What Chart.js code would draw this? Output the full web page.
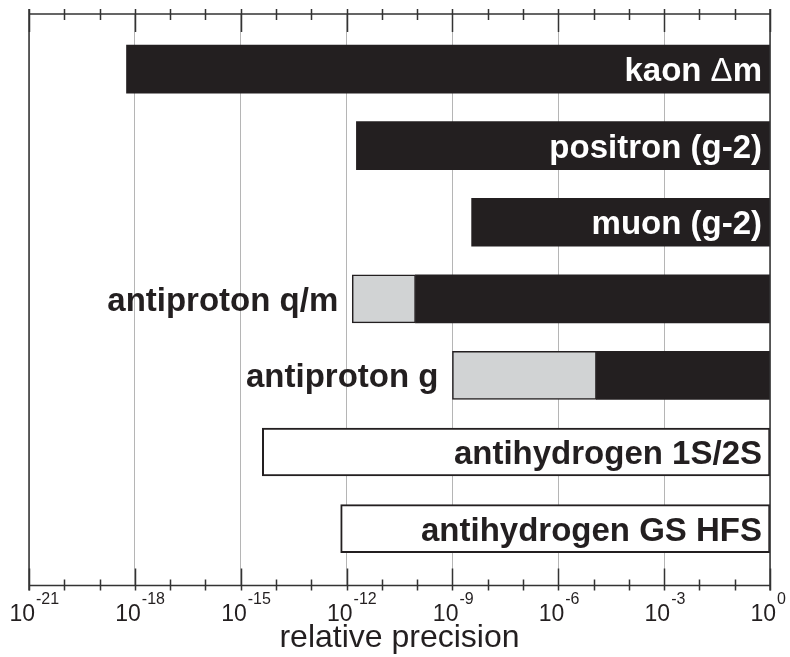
<!DOCTYPE html>
<html>
<head>
<meta charset="utf-8">
<script src="https://cdn.jsdelivr.net/npm/chart.js@4.4.1/dist/chart.umd.min.js"></script>
<style>
  html, body { margin: 0; padding: 0; background: #fff; }
  #wrap { width: 790px; height: 657px; position: relative; }
</style>
</head>
<body>
<div id="wrap"><canvas id="chart"></canvas></div>
<script>
// Rows, top to bottom
const rows = [
	"kaon \u0394m",
	"positron (g-2)",
	"muon (g-2)",
	"antiproton q/m",
	"antiproton g",
	"antihydrogen 1S/2S",
	"antihydrogen GS HFS",
];

// Where each bar starts (relative precision); all bars run up to upTo
const blackFrom = [5.8e-19, 1.9e-12, 3.5e-9, 9e-11, 1.2e-5, null, null];
const grayFrom = [null, null, null, 1.45e-12, 1e-9, null, null];
const whiteFrom = [null, null, null, null, null, 4.1e-15, 6.8e-13];
const upTo = [1, 1, 1, 1, 1, 1, 1];

// Axis ticks (powers of ten)
const tickExps = [-21, -20, -19, -18, -17, -16, -15, -14, -13, -12, -11,
	-10, -9, -8, -7, -6, -5, -4, -3, -2, -1, 0];
const labelExps = [-21, -18, -15, -12, -9, -6, -3, 0];

const ink = "#231f20";
const fontFamily = "\"Liberation Sans\", Arial, Helvetica, sans-serif";

function barsFrom(from, to) {
	const out = [];
	rows.forEach((_, i) => {
		if (from[i] != null) {
			out.push({ y: i, x: [from[i], to[i]] });
		}
	});
	return out;
}

// Gray part ends where black part starts
const grayTo = blackFrom.map((v, i) => (grayFrom[i] != null ? v : null));

const barStyle = {
	grouped: false,
	barThickness: 48,
	borderSkipped: false,
};

// Frame, tick marks and tick labels
const framePlugin = {
	id: "frame",
	afterDraw(chart) {
		const { ctx, chartArea: area } = chart;
		const xs = chart.scales.x;
		ctx.save();
		ctx.strokeStyle = "#333";
		ctx.lineWidth = 1.5;

		ctx.beginPath();
		ctx.moveTo(area.left, area.top);
		ctx.lineTo(area.right, area.top);
		ctx.moveTo(area.left, area.bottom);
		ctx.lineTo(area.right, area.bottom);
		ctx.moveTo(area.left, area.top - 5);
		ctx.lineTo(area.left, area.bottom + 5);
		ctx.moveTo(area.right, area.top - 5);
		ctx.lineTo(area.right, area.bottom + 5);
		ctx.stroke();

		ctx.beginPath();
		tickExps.forEach((e) => {
			const x = Math.round(xs.getPixelForValue(Math.pow(10, e))) + 0.5;
			const major = labelExps.includes(e);
			ctx.moveTo(x, area.top - 5);
			ctx.lineTo(x, area.top + (major ? 18 : 6));
			ctx.moveTo(x, area.bottom + 5);
			ctx.lineTo(x, area.bottom - (major ? 17 : 6));
		});
		ctx.stroke();

		ctx.fillStyle = ink;
		ctx.textBaseline = "alphabetic";
		labelExps.forEach((e) => {
			const x = xs.getPixelForValue(Math.pow(10, e));
			ctx.font = `23px ${fontFamily}`;
			ctx.textAlign = "right";
			ctx.fillText("10", x + 6, area.bottom + 35);
			ctx.font = `16px ${fontFamily}`;
			ctx.textAlign = "left";
			ctx.fillText(String(e), x + 7, area.bottom + 18);
		});
		ctx.restore();
	},
};

// Draw a name right-aligned at x; the delta sign is set in a lighter weight
function drawName(ctx, name, x, y) {
	const parts = name.split(/(\u0394)/).filter((p) => p !== "");
	const fonts = parts.map((p) => (p === "\u0394" ? `33px ${fontFamily}` : `bold 33px ${fontFamily}`));
	let right = x;
	ctx.textAlign = "right";
	for (let k = parts.length - 1; k >= 0; k--) {
		ctx.font = fonts[k];
		ctx.fillText(parts[k], right, y);
		right -= ctx.measureText(parts[k]).width;
	}
}

// Row names on or beside the bars
const namesPlugin = {
	id: "names",
	afterDatasetsDraw(chart) {
		const { ctx } = chart;
		const xs = chart.scales.x;
		const ys = chart.scales.y;
		ctx.save();
		ctx.textBaseline = "alphabetic";
		rows.forEach((name, i) => {
			const base = ys.getPixelForValue(i) + 12;
			if (grayFrom[i] != null) {
				ctx.fillStyle = ink;
				drawName(ctx, name, xs.getPixelForValue(grayFrom[i]) - 14, base);
			} else {
				ctx.fillStyle = whiteFrom[i] != null ? ink : "#fff";
				drawName(ctx, name, xs.getPixelForValue(upTo[i]) - 8, base);
			}
		});
		ctx.restore();
	},
};

new Chart(document.getElementById("chart"), {
	type: "bar",
	data: {
		datasets: [
			{
				label: "measured",
				data: barsFrom(blackFrom, upTo),
				backgroundColor: ink,
				borderWidth: 0,
				...barStyle,
			},
			{
				label: "reached",
				data: barsFrom(grayFrom, grayTo),
				backgroundColor: "#d1d3d4",
				borderColor: ink,
				borderWidth: 1.5,
				...barStyle,
			},
			{
				label: "planned",
				data: barsFrom(whiteFrom, upTo),
				backgroundColor: "#fff",
				borderColor: ink,
				borderWidth: 2,
				...barStyle,
			},
		],
	},
	options: {
		indexAxis: "y",
		responsive: true,
		maintainAspectRatio: false,
		animation: false,
		layout: { padding: { left: 29, right: 20, top: 14, bottom: 0 } },
		plugins: {
			legend: { display: false },
			tooltip: { enabled: false },
		},
		scales: {
			x: {
				type: "logarithmic",
				min: 1e-21,
				max: 1,
				afterBuildTicks: (scale) => {
					scale.ticks = tickExps.map((e) => ({ value: Math.pow(10, e) }));
				},
				ticks: { display: false },
				grid: {
					drawTicks: false,
					lineWidth: 1,
					color: (c) => {
						const e = Math.round(Math.log10(c.tick.value));
						return labelExps.includes(e) ? "#b5b5b5" : "rgba(0,0,0,0)";
					},
				},
				border: { display: false },
				title: {
					display: true,
					text: "relative precision",
					color: ink,
					font: { family: fontFamily, size: 32 },
					padding: { top: 33, bottom: 0 },
				},
			},
			y: {
				type: "linear",
				min: -0.72,
				max: 6.745,
				reverse: true,
				offset: false,
				grid: { offset: false },
				display: false,
			},
		},
	},
	plugins: [namesPlugin, framePlugin],
});
</script>
</body>
</html>
